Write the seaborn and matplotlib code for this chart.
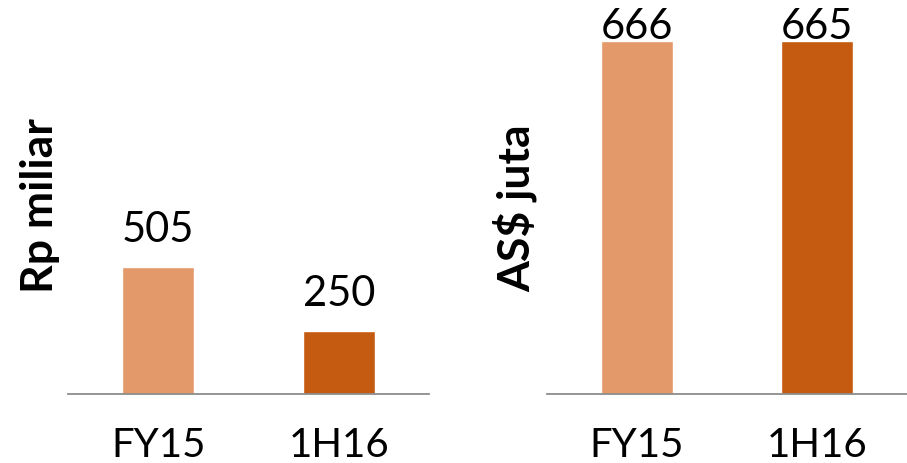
import matplotlib.pyplot as plt
import seaborn as sns
import pandas as pd

periode = ["FY15", "1H16"]
laba_rp = [505, 250]      # Rp miliar
laba_aud = [666, 665]     # AS$ juta
warna = ["#E4996A", "#C55A11"]

sns.set_theme(style="white")
plt.rcParams["font.family"] = ["Lato", "DejaVu Sans"]

fig = plt.figure(figsize=(9.07, 4.63), dpi=100)
ax1 = fig.add_axes([0.075, 0.149, 0.398, 0.851])
ax2 = fig.add_axes([0.6026, 0.149, 0.397, 0.851])

panel = [
    (ax1, laba_rp, "Rp miliar", 1567, 18, 0.066, 0.557),
    (ax2, laba_aud, "AS$ juta", 743, 1.5, 0.592, 0.551),
]

for ax, nilai, judul, ymax, jarak, xlab, ylab in panel:
    df = pd.DataFrame({"periode": periode, "nilai": nilai})
    sns.barplot(data=df, x="periode", y="nilai", hue="periode", palette=warna,
                width=0.4, legend=False, ax=ax, saturation=1)
    ax.set_xlim(-0.5, 1.5)
    ax.set_ylim(0, ymax)
    # angka di atas batang
    for i, v in enumerate(nilai):
        ax.annotate(str(v), (i, v), xytext=(0, jarak), textcoords="offset points",
                    ha="center", va="baseline", fontsize=30, color="black",
                    annotation_clip=False)
    for s in ["top", "right", "left"]:
        ax.spines[s].set_visible(False)
    ax.spines["bottom"].set_color("#8C8C8C")
    ax.spines["bottom"].set_linewidth(1.3)
    ax.set_yticks([])
    ax.set_xlabel("")
    ax.tick_params(axis="x", length=0, pad=24, labelsize=29, labelcolor="black")
    ax.set_ylabel(judul, fontsize=32, fontweight="bold", color="black")
    ax.yaxis.set_label_coords(xlab, ylab, transform=fig.transFigure)

fig.savefig("out.png", dpi=100)
